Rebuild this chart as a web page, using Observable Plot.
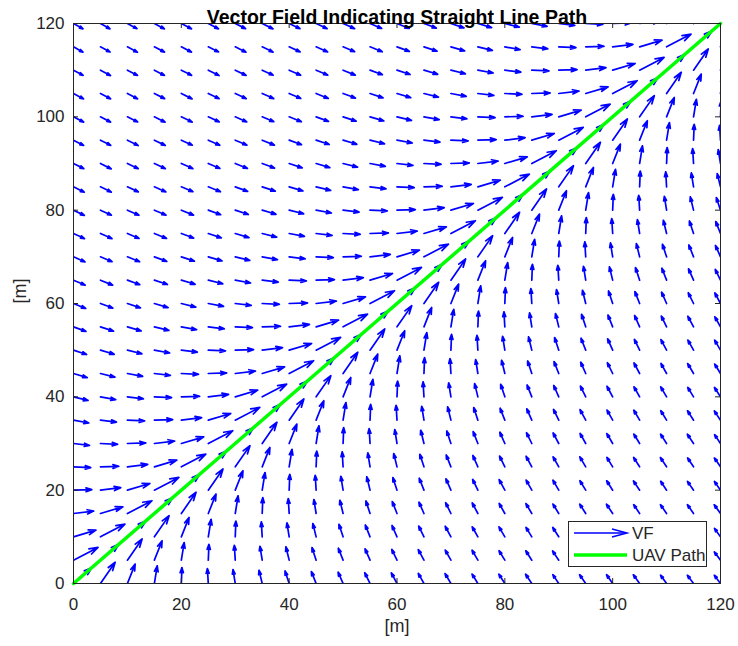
<!DOCTYPE html>
<html>
<head>
<meta charset="utf-8">
<script src="https://cdn.jsdelivr.net/npm/d3@7"></script>
<script src="https://cdn.jsdelivr.net/npm/@observablehq/plot@0.6"></script>
<style>
  body { margin: 0; background: #fff; }
  #wrap { position: relative; width: 738px; height: 646px; font-family: "Liberation Sans", Arial, Helvetica, sans-serif; }
  #legend { position: absolute; left: 568px; top: 521px; width: 137px; height: 44px; border: 1px solid #262626; background: #fff; }
  #legend text { font-family: "Liberation Sans", Arial, Helvetica, sans-serif; font-size: 17px; fill: #262626; }
</style>
</head>
<body>
<div id="wrap"></div>
<script>
// Grid of quiver tails (metres)
const gridX = [0,5,10,15,20,25,30,35,40,45,50,55,60,65,70,75,80,85,90,95,100,105,110,115,120];
const gridY = [0,5,10,15,20,25,30,35,40,45,50,55,60,65,70,75,80,85,90,95,100,105,110,115,120];

// Cross-track offset (x - y), read along the diagonals of the picture
const offsets = [-120,-115,-110,-105,-100,-95,-90,-85,-80,-75,-70,-65,-60,-55,-50,-45,-40,-35,-30,-25,-20,-15,-10,-5,
                 0,5,10,15,20,25,30,35,40,45,50,55,60,65,70,75,80,85,90,95,100,105,110,115,120];
// Arrow heading (degrees, data space) for each offset
const headingDeg = [-33,-33,-32,-32,-31,-31,-30,-30,-29,-28,-27,-26,-25,-23,-21,-19,-16,-12,-8,-3,2,8,19,31,
                    45,59,71,82,88,93,98,102,106,109,111,113,115,116,117,118,119,120,120,121,121,122,122,123,123];
// Arrow length (data units) for each offset
const arrowLen = [2.1,2.1,2.1,2.2,2.2,2.2,2.2,2.3,2.3,2.3,2.4,2.4,2.5,2.5,2.6,2.7,2.8,2.9,3.0,3.2,3.4,3.8,4.4,5.3,
                  4.8,5.3,4.4,3.8,3.4,3.2,3.0,2.9,2.8,2.7,2.6,2.5,2.5,2.4,2.4,2.3,2.3,2.3,2.2,2.2,2.2,2.2,2.1,2.1,2.1];

// UAV straight-line path
const pathX = [0, 120];
const pathY = [0, 120];

const xTicks = [0,20,40,60,80,100,120];
const yTicks = [0,20,40,60,80,100,120];

const titleText = "Vector Field Indicating Straight Line Path";
const xLabel = "[m]";
const yLabel = "[m]";

// Build field table from the arrays
const field = [];
for (const x of gridX) for (const y of gridY) {
  const i = offsets.indexOf(x - y);
  field.push({x, y, a: headingDeg[i] * Math.PI / 180, len: arrowLen[i]});
}
const path = pathX.map((x, i) => ({x, y: pathY[i]}));

const ink = "#262626";
const chart = Plot.plot({
  width: 738,
  height: 646,
  marginLeft: 73,
  marginRight: 18,
  marginTop: 23,
  marginBottom: 63,
  style: { fontFamily: "'Liberation Sans', Arial, Helvetica, sans-serif", fontSize: "17px", color: ink, background: "#fff" },
  x: { domain: [0, 120] },
  y: { domain: [0, 120] },
  marks: [
    Plot.arrow(field, {
      x1: "x", y1: "y",
      x2: d => d.x + d.len * Math.cos(d.a),
      y2: d => d.y + d.len * Math.sin(d.a),
      stroke: "#0000ff", strokeWidth: 1.7, headAngle: 36, headLength: 14, clip: true
    }),
    Plot.line(path, { x: "x", y: "y", stroke: "#00ff00", strokeWidth: 3.5 }),
    Plot.frame({ stroke: ink, strokeWidth: 1 }),
    Plot.tickX(xTicks, { x: d => d, insetTop: 555, stroke: ink }),
    Plot.tickX(xTicks, { x: d => d, insetBottom: 555, stroke: ink }),
    Plot.tickY(yTicks, { y: d => d, insetRight: 642, stroke: ink }),
    Plot.tickY(yTicks, { y: d => d, insetLeft: 642, stroke: ink }),
    Plot.axisX(xTicks, { tickSize: 0, tickPadding: 14, fontSize: 17, label: null }),
    Plot.axisY(yTicks, { tickSize: 0, tickPadding: 9, fontSize: 17, label: null }),
    Plot.text([titleText], { frameAnchor: "top", dy: -13, fontWeight: "bold", fontSize: 19.5, fill: "#000" }),
    Plot.text([xLabel], { frameAnchor: "bottom", dy: 48, fontSize: 18, fill: ink }),
    Plot.text([yLabel], { frameAnchor: "left", dx: -53, rotate: -90, fontSize: 18, fill: ink })
  ]
});
const wrap = document.getElementById("wrap");
wrap.appendChild(chart);

const legend = document.createElement("div");
legend.id = "legend";
legend.innerHTML = `<svg width="137" height="44">
  <line x1="5" y1="11" x2="57" y2="11" stroke="#0000ff" stroke-width="1.5"/>
  <path d="M43,7 L58,11 L43,15" fill="none" stroke="#0000ff" stroke-width="1.5"/>
  <text x="63" y="17">VF</text>
  <line x1="5" y1="33" x2="58" y2="33" stroke="#00ff00" stroke-width="3.5"/>
  <text x="63" y="39">UAV Path</text>
</svg>`;
wrap.appendChild(legend);
</script>
</body>
</html>
